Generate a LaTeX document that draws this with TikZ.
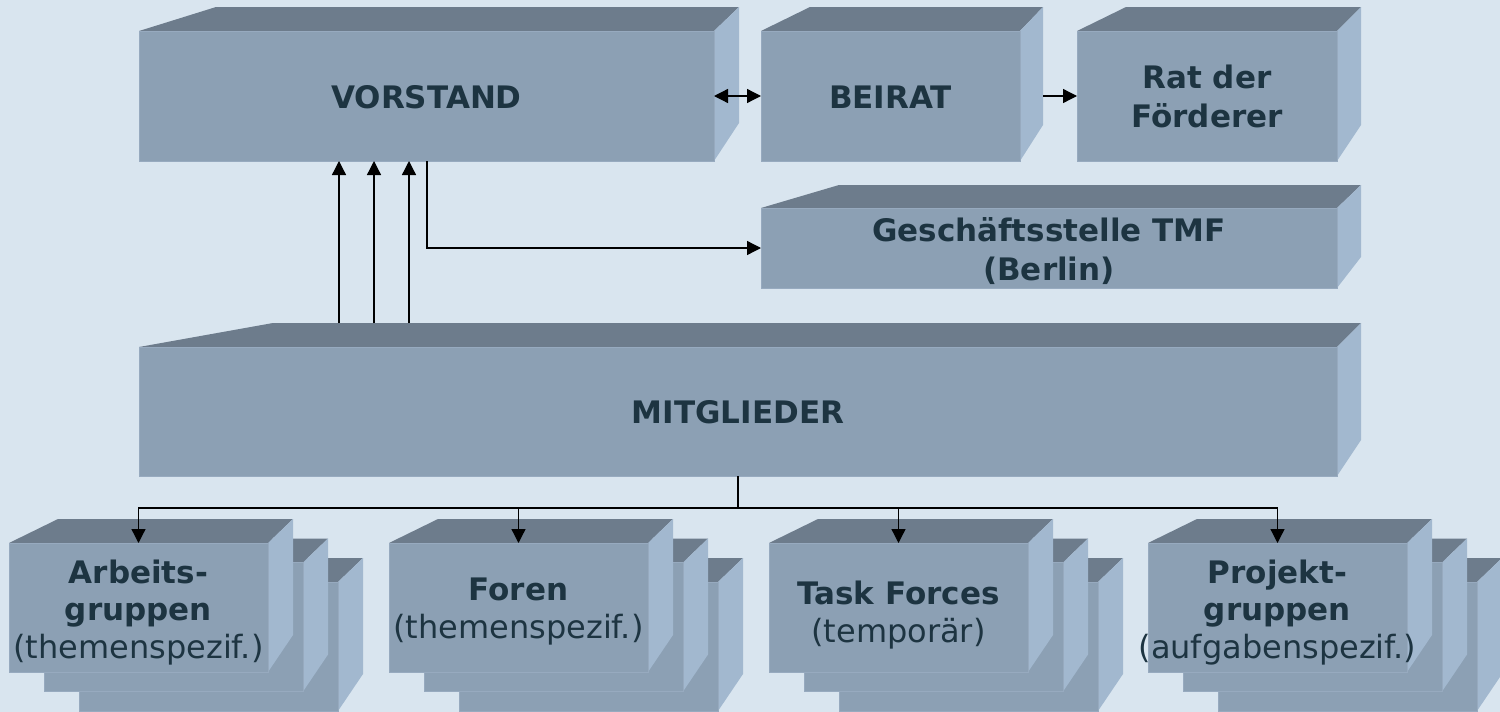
\documentclass[tikz,border=0pt]{standalone}
\usepackage{fontspec}
\setmainfont{DejaVu Sans}
\usetikzlibrary{arrows.meta}
\definecolor{bgc}{HTML}{D9E5EF}
\definecolor{frontc}{HTML}{8CA0B4}
\definecolor{topc}{HTML}{6D7C8C}
\definecolor{sidec}{HTML}{A2B8CF}
\definecolor{edgec}{HTML}{97AABF}
\definecolor{txtc}{HTML}{1D3441}
\tikzset{
  face/.style={fill=frontc, draw=edgec, line width=0.8pt, inner sep=0pt, outer sep=0pt},
  hd/.style={font=\fontsize{31}{39}\selectfont\bfseries, text=txtc, align=center, inner sep=0pt},
  sthd/.style={font=\fontsize{31}{37.5}\selectfont\bfseries, text=txtc, align=center, inner sep=0pt},
  conn/.style={line width=1.3pt, draw=black},
  tipa/.style={-{Triangle[length=14pt,width=14pt]}},
  tipb/.style={{Triangle[length=14pt,width=14pt]}-{Triangle[length=14pt,width=14pt]}}
}
% name, x1, y1, x2, y2, back-left x, back-right x, back y, side bottom y
\newcommand\solidbox[9]{%
  \fill[topc] (#2,#3) -- (#4,#3) -- (#7,#8) -- (#6,#8) -- cycle;
  \fill[sidec] (#4,#3) -- (#7,#8) -- (#7,#9) -- (#4,#5) -- cycle;
  \node[face, anchor=north west, minimum width={(#4-#2)*1pt}, minimum height={(#5-#3)*1pt}] (#1) at (#2,#3) {};
}
\newcommand\stackbox[2]{%
  \foreach \k in {2,1,0} {%
    \pgfmathsetmacro\qxa{#2+35*\k}%
    \pgfmathsetmacro\qya{543+19.5*\k}%
    \pgfmathsetmacro\qxb{#2+259+35*\k}%
    \pgfmathsetmacro\qyb{672+19.5*\k}%
    \pgfmathsetmacro\qbl{\qxa+49}%
    \pgfmathsetmacro\qbr{\qxb+25}%
    \pgfmathsetmacro\qyt{\qya-24}%
    \pgfmathsetmacro\qsb{\qyb-37}%
    \ifnum\k=0 \def\qnm{#1}\else \edef\qnm{#1\k}\fi
    \solidbox{\qnm}{\qxa}{\qya}{\qxb}{\qyb}{\qbl}{\qbr}{\qyt}{\qsb}
  }%
}
\begin{document}
\begin{tikzpicture}[x=1pt, y=-1pt]
\fill[bgc] (0,0) rectangle (1500,712);
\useasboundingbox (0,0) rectangle (1500,712);

% top row
\solidbox{vor}{139}{31}{714}{161}{216}{739}{7}{123}
\solidbox{bei}{761}{31}{1020}{161}{810}{1043}{7}{125}
\solidbox{rat}{1077}{31}{1337}{161}{1126}{1361}{7}{125}
\solidbox{ges}{761}{208}{1337}{288}{839}{1361}{185}{257}
\solidbox{mit}{139}{347}{1337}{476}{273}{1361}{323}{440}

% stacks
\stackbox{ag}{9}
\stackbox{fo}{389}
\stackbox{tf}{769}
\stackbox{pg}{1148}

% connectors
\draw[conn, tipb] (vor.east) -- (bei.west);
\draw[conn, tipa] ([xshift=23pt]bei.east) -- (rat.west);
\coordinate (mtop) at ([yshift=24pt]mit.north);
\draw[conn, tipa] ([xshift=200pt]vor.south west |- mtop) -- ([xshift=200pt]vor.south west);
\draw[conn, tipa] ([xshift=235pt]vor.south west |- mtop) -- ([xshift=235pt]vor.south west);
\draw[conn, tipa] ([xshift=270pt]vor.south west |- mtop) -- ([xshift=270pt]vor.south west);
\draw[conn, tipa] ([xshift=288pt]vor.south west) |- (ges.west);
\coordinate (bus) at ([yshift=-32pt]mit.south);
\draw[conn] (mit.south) -- (bus);
\draw[conn, tipa] (bus) -| (ag.north);
\draw[conn, tipa] (bus) -| (fo.north);
\draw[conn, tipa] (bus) -| (tf.north);
\draw[conn, tipa] (bus) -| (pg.north);

% labels (anchor=base is the baseline of the last line)
\node[hd, anchor=base] (lvor) at (vor.center |- 0,108) {VORSTAND};
\node[hd, anchor=base] (lbei) at (bei.center |- 0,108) {BEIRAT};
\node[hd, anchor=base] (lrat) at (rat.center |- 0,127) {Rat der\\Förderer};
\node[hd, anchor=base] (lges) at (ges.center |- 0,280) {Geschäftsstelle TMF\\(Berlin)};
\node[hd, anchor=base] (lmit) at (mit.center |- 0,423) {MITGLIEDER};
\node[sthd, anchor=base] (lag) at (ag.center |- 0,658) {Arbeits-\\gruppen\\{\fontsize{32}{37.5}\selectfont\mdseries (themenspezif.)}};
\node[sthd, anchor=base] (lfo) at (fo.center |- 0,638) {Foren\\{\fontsize{32}{37.5}\selectfont\mdseries (themenspezif.)}};
\node[sthd, anchor=base] (ltf) at (tf.center |- 0,642) {Task Forces\\{\fontsize{32}{42}\selectfont\mdseries (temporär)}};
\node[sthd, anchor=base] (lpg) at (pg.center |- 0,658) {Projekt-\\gruppen\\{\fontsize{32}{37.5}\selectfont\mdseries (aufgabenspezif.)}};
\end{tikzpicture}
\end{document}
